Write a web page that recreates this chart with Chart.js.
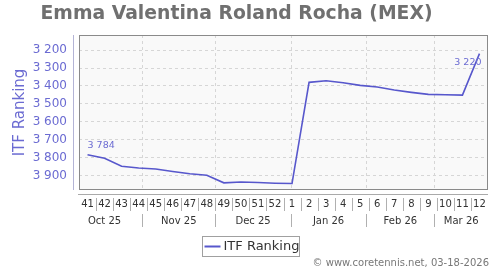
<!DOCTYPE html>
<html>
<head>
<meta charset="utf-8">
<script src="https://cdn.jsdelivr.net/npm/chart.js@4/dist/chart.umd.min.js"></script>
<style>
  html, body { margin: 0; padding: 0; background: #fff; }
  #wrap { width: 500px; height: 270px; }
</style>
</head>
<body>
<div id="wrap"><canvas id="chart"></canvas></div>
<script>
const title = 'Emma Valentina Roland Rocha (MEX)'
const seriesName = 'ITF Ranking'
const weeks = ['41', '42', '43', '44', '45', '46', '47', '48', '49', '50', '51', '52',
    '1', '2', '3', '4', '5', '6', '7', '8', '9', '10', '11', '12']
const ranking = [3784, 3803, 3848, 3857, 3863, 3877, 3889, 3898, 3940, 3935, 3938, 3942,
    3944, 3380, 3371, 3382, 3397, 3406, 3423, 3436, 3447, 3449, 3451, 3220]
const yTicks = [3200, 3300, 3400, 3500, 3600, 3700, 3800, 3900]
const months = ['Oct 25', 'Nov 25', 'Dec 25', 'Jan 26', 'Feb 26', 'Mar 26']
const monthStarts = ['2025-10-01', '2025-11-01', '2025-12-01', '2026-01-01', '2026-02-01', '2026-03-01']
const firstMonday = '2025-10-06'
const labelled = [0, 23]
const credit = '\u00a9 www.coretennis.net, 03-18-2026'

const lineColor = '#5757cc'
const axisColor = '#6b6bd2'
const FONT = '"DejaVu Sans", sans-serif'

const fmt = v => String(v).replace(/\B(?=(\d{3})+(?!\d))/g, ' ')

// week index of a date (points sit in the middle of their week)
function weekPos(d) {
    return (Date.parse(d) - Date.parse(firstMonday)) / (7 * 86400000) - 0.5
}

const decor = {
    id: 'decor',
    beforeDatasetsDraw(chart) {
        const { ctx, chartArea: a, scales: { x } } = chart
        ctx.save()
        ctx.strokeStyle = '#d6d6d6'
        ctx.lineWidth = 1
        ctx.setLineDash([3, 3])
        monthStarts.slice(1).forEach(d => {
            const px = Math.round(x.getPixelForValue(weekPos(d))) + 0.5
            ctx.beginPath()
            ctx.moveTo(px, a.top)
            ctx.lineTo(px, a.bottom)
            ctx.stroke()
        })
        ctx.restore()
    },
    beforeDraw(chart) {
        const { ctx, chartArea: a } = chart
        ctx.save()
        ctx.fillStyle = '#f9f9f9'
        ctx.fillRect(a.left, a.top, a.right - a.left, a.bottom - a.top)
        ctx.restore()
    },
    afterDraw(chart) {
        const { ctx, chartArea: a, scales: { x, y } } = chart
        ctx.save()

        // plot border
        ctx.strokeStyle = '#8a8a8a'
        ctx.lineWidth = 1
        ctx.strokeRect(a.left + 0.5, a.top + 0.5, a.right - a.left - 1, a.bottom - a.top - 1)

        // detached axis lines
        ctx.strokeStyle = '#b4b4d6'
        ctx.beginPath()
        ctx.moveTo(a.left - 5.5, a.top)
        ctx.lineTo(a.left - 5.5, a.bottom)
        ctx.stroke()
        ctx.strokeStyle = '#aaaaaa'
        ctx.beginPath()
        ctx.moveTo(a.left - 1, a.bottom + 4.5)
        ctx.lineTo(a.right, a.bottom + 4.5)
        ctx.stroke()

        // title
        ctx.fillStyle = '#707070'
        ctx.font = 'bold 18.8px ' + FONT
        ctx.textAlign = 'center'
        ctx.textBaseline = 'alphabetic'
        ctx.fillText(title, 236.5, 18.5)

        // y title
        ctx.save()
        ctx.translate(20, (a.top + a.bottom) / 2)
        ctx.rotate(-Math.PI / 2)
        ctx.fillStyle = axisColor
        ctx.font = '15px ' + FONT
        ctx.textBaseline = 'middle'
        ctx.fillText(seriesName, 0, 0)
        ctx.restore()

        // week row
        ctx.font = '10px ' + FONT
        ctx.fillStyle = '#333333'
        ctx.textAlign = 'center'
        ctx.textBaseline = 'middle'
        ctx.strokeStyle = '#b0b0b0'
        weeks.forEach((w, i) => {
            ctx.fillText(w, x.getPixelForValue(i), a.bottom + 14.5)
            if (i < weeks.length - 1) {
                const px = Math.round(x.getPixelForValue(i + 0.5)) + 0.5
                ctx.beginPath()
                ctx.moveTo(px, a.bottom + 8)
                ctx.lineTo(px, a.bottom + 21)
                ctx.stroke()
            }
        })

        // month row: label centred on its month, cut at the right end of the axis
        const hi = weeks.length - 0.5
        months.forEach((m, i) => {
            const s = weekPos(monthStarts[i])
            const e = i + 1 < months.length ? weekPos(monthStarts[i + 1]) : hi
            const cx = (x.getPixelForValue(s) + x.getPixelForValue(Math.min(e, hi))) / 2
            ctx.fillText(m, cx, a.bottom + 31)
            if (i > 0) {
                const px = Math.round(x.getPixelForValue(s)) + 0.5
                ctx.beginPath()
                ctx.moveTo(px, a.bottom + 24)
                ctx.lineTo(px, a.bottom + 37)
                ctx.stroke()
            }
        })

        // value labels
        ctx.fillStyle = axisColor
        ctx.font = '9.5px ' + FONT
        labelled.forEach(i => {
            const px = x.getPixelForValue(i)
            const py = y.getPixelForValue(ranking[i])
            if (i === 0) {
                ctx.textAlign = 'left'
                ctx.fillText(fmt(ranking[i]), px, py - 9)
            } else {
                ctx.textAlign = 'right'
                ctx.fillText(fmt(ranking[i]), px + 2, py + 9)
            }
        })

        // legend
        const lx = 202.5, ly = 236.5, lw = 97, lh = 20
        ctx.strokeStyle = '#a0a0a0'
        ctx.strokeRect(lx, ly, lw, lh)
        ctx.strokeStyle = lineColor
        ctx.lineWidth = 2
        ctx.beginPath()
        ctx.moveTo(lx + 2, ly + 10)
        ctx.lineTo(lx + 18, ly + 10)
        ctx.stroke()
        ctx.fillStyle = '#333333'
        ctx.font = '13px ' + FONT
        ctx.textAlign = 'left'
        ctx.fillText(seriesName, lx + 21, ly + 10.5)

        // credit
        ctx.fillStyle = '#777777'
        ctx.font = '10px ' + FONT
        ctx.textAlign = 'right'
        ctx.fillText(credit, 489, 263)

        ctx.restore()
    }
}

new Chart(document.getElementById('chart'), {
    type: 'line',
    data: {
        labels: weeks,
        datasets: [{
            label: seriesName,
            data: ranking,
            borderColor: lineColor,
            borderWidth: 1.6,
            pointRadius: 0,
            tension: 0
        }]
    },
    options: {
        responsive: true,
        maintainAspectRatio: false,
        animation: false,
        layout: { padding: { top: 35, right: 12, left: 0, bottom: 0 } },
        plugins: {
            legend: { display: false },
            title: { display: false },
            tooltip: { enabled: false }
        },
        scales: {
            x: {
                type: 'category',
                offset: true,
                ticks: { display: false },
                grid: { display: false },
                border: { display: false },
                afterFit: s => { s.height = 80 }
            },
            y: {
                reverse: true,
                min: 3116,
                max: 3980,
                afterBuildTicks: s => { s.ticks = yTicks.map(v => ({ value: v })) },
                afterFit: s => { s.width = 79 },
                ticks: {
                    padding: 12,
                    color: axisColor,
                    font: { family: FONT, size: 12 },
                    callback: v => fmt(v)
                },
                grid: { color: '#d6d6d6', drawTicks: false },
                border: { display: false, dash: [3, 3] }
            }
        }
    },
    plugins: [decor]
});
</script>
</body>
</html>
